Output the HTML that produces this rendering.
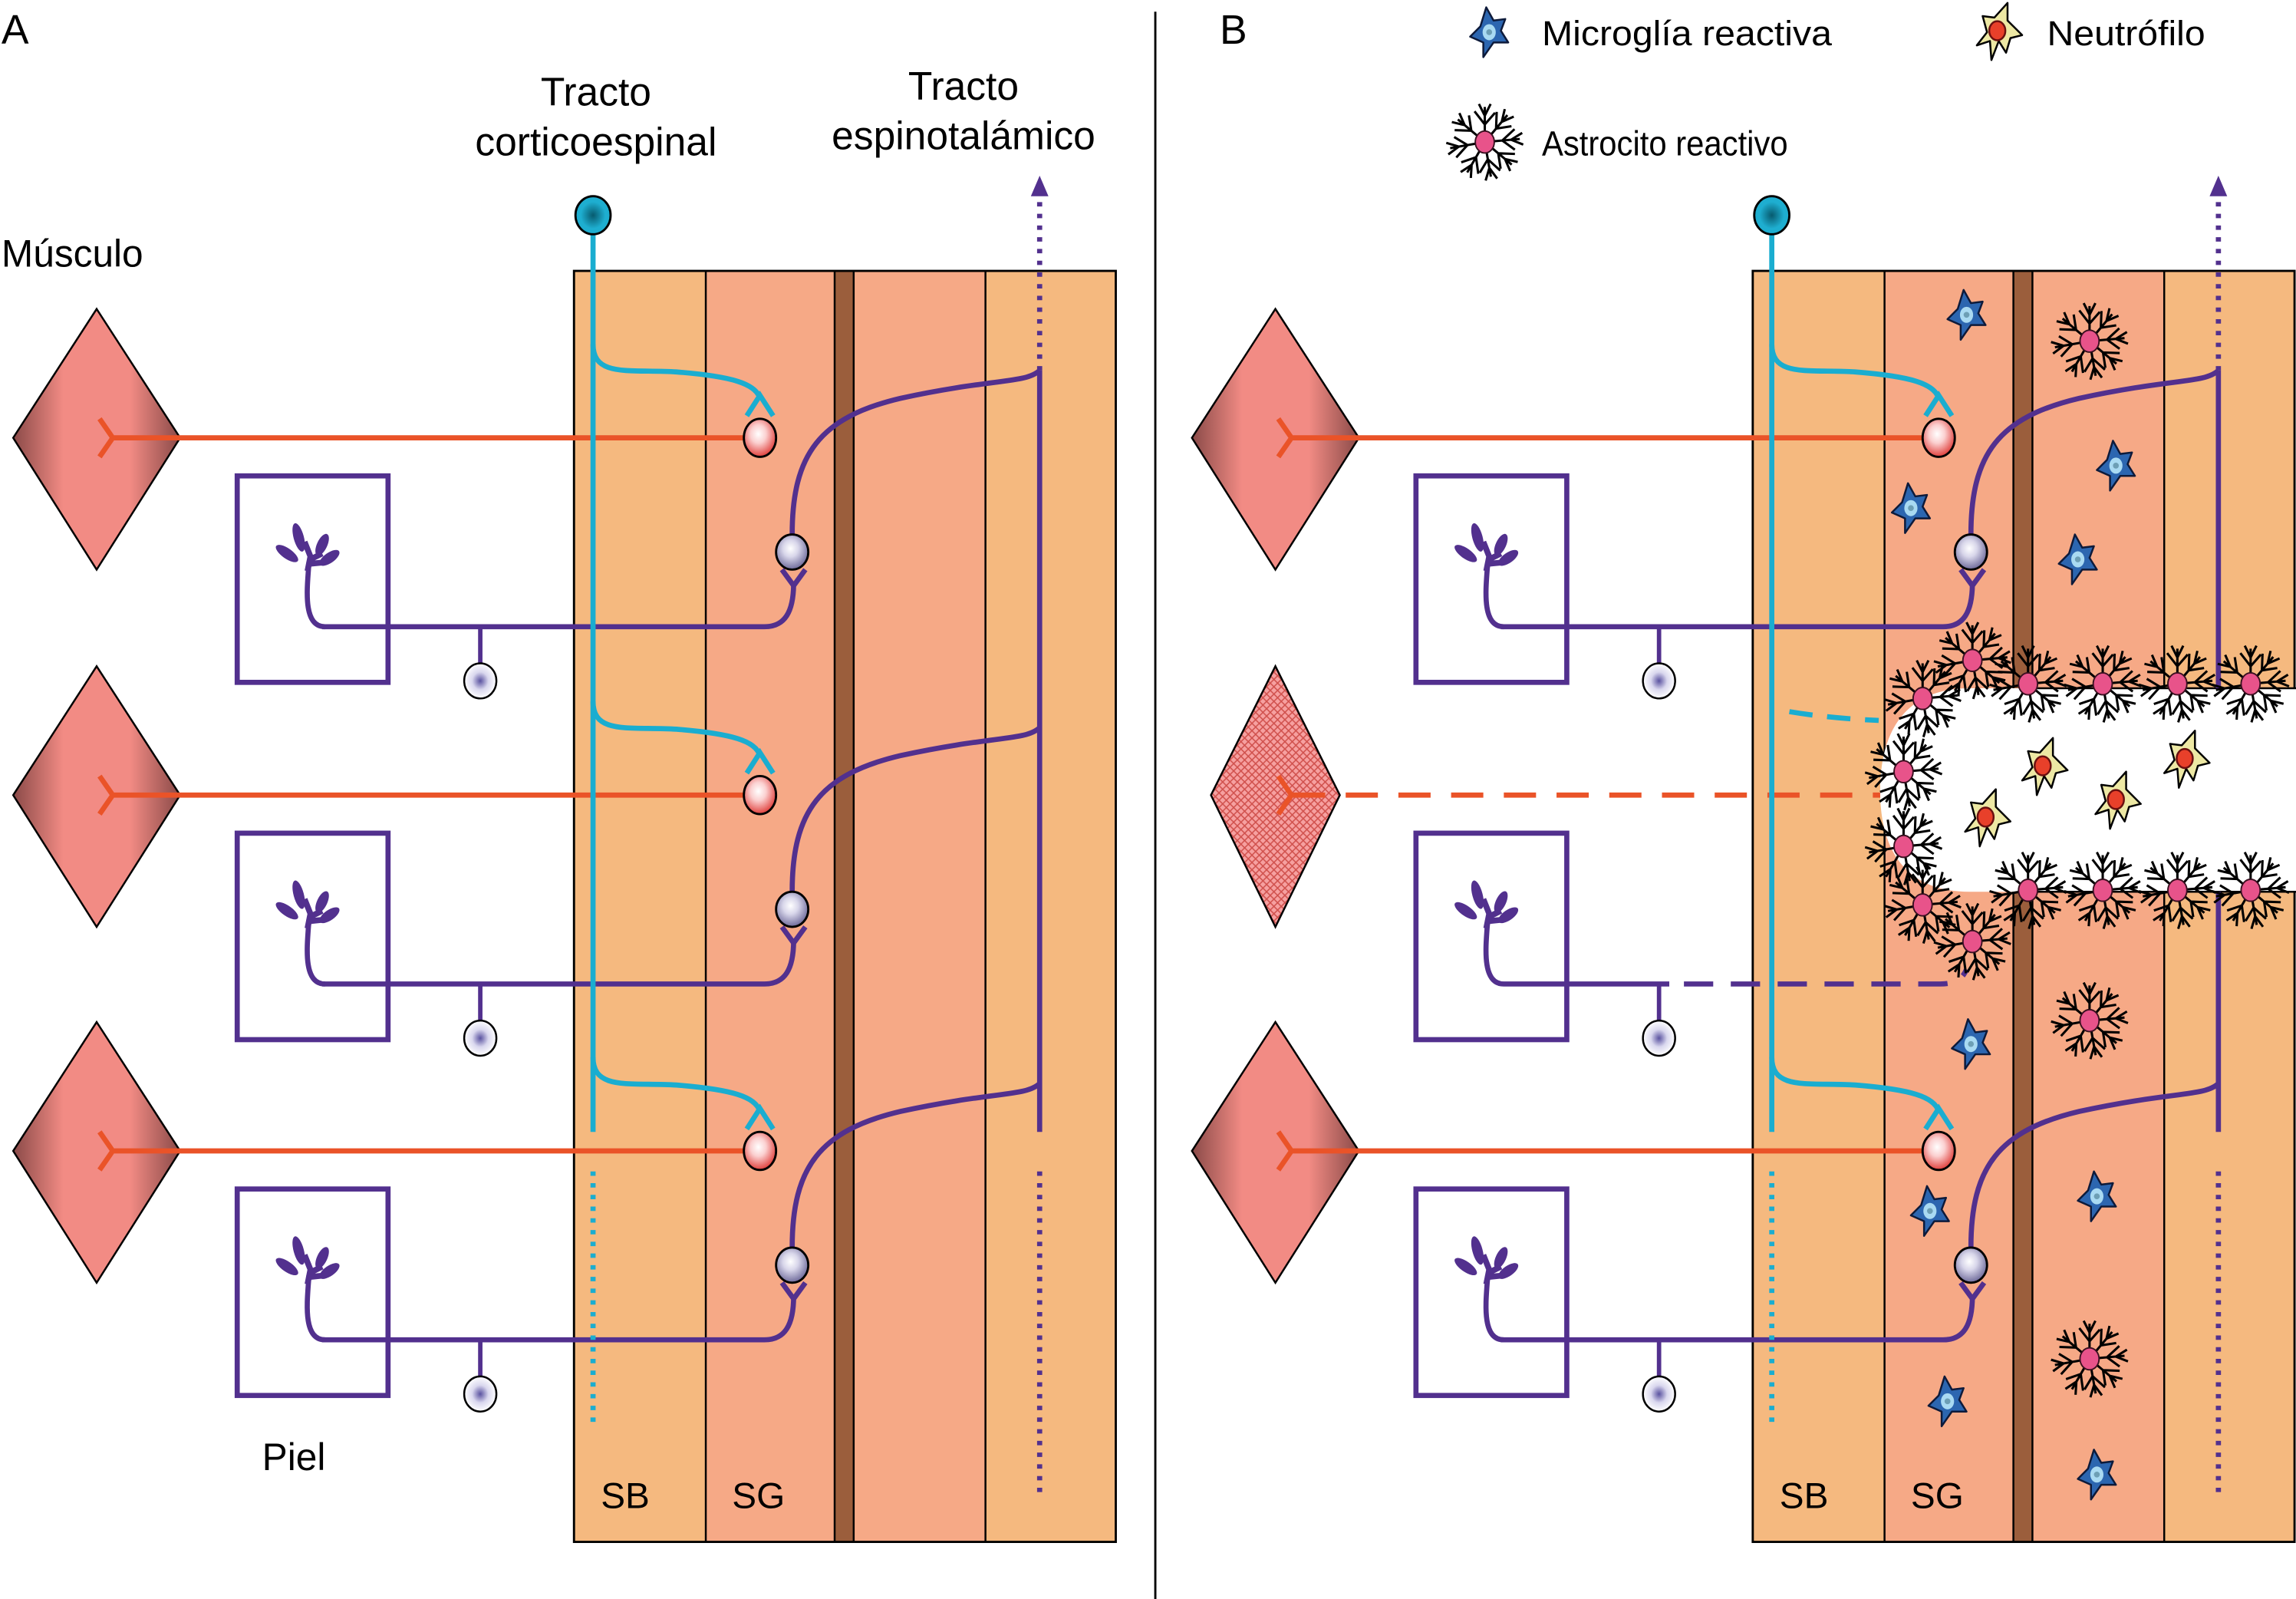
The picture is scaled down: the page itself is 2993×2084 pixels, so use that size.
<!DOCTYPE html>
<html><head><meta charset="utf-8"><style>html,body{margin:0;padding:0;background:#fff}svg{display:block}</style></head><body>
<svg xmlns="http://www.w3.org/2000/svg" xmlns:xlink="http://www.w3.org/1999/xlink" width="2993" height="2084" viewBox="0 0 1568 1092" preserveAspectRatio="none" font-family="'Liberation Sans Narrow','Liberation Sans',sans-serif">
<defs>
<linearGradient id="dg" x1="0" x2="1" y1="0" y2="0"><stop offset="0" stop-color="#8a4a48"/><stop offset="0.3" stop-color="#F28B84"/><stop offset="0.7" stop-color="#F28B84"/><stop offset="1" stop-color="#8a4a48"/></linearGradient>
<radialGradient id="rc" cx="0.45" cy="0.4" r="0.6"><stop offset="0" stop-color="#fff"/><stop offset="0.4" stop-color="#fbd0d0"/><stop offset="1" stop-color="#e0403c"/></radialGradient>
<radialGradient id="pc" cx="0.45" cy="0.4" r="0.6"><stop offset="0" stop-color="#fff"/><stop offset="0.4" stop-color="#d8d6ea"/><stop offset="1" stop-color="#6e6a9a"/></radialGradient>
<radialGradient id="wc" r="0.5"><stop offset="0" stop-color="#5a52a0"/><stop offset="0.5" stop-color="#d9d7ee"/><stop offset="1" stop-color="#fff"/></radialGradient>
<radialGradient id="cc" r="0.5"><stop offset="0" stop-color="#075a6e"/><stop offset="0.7" stop-color="#1eaed0"/><stop offset="1" stop-color="#1eaed0"/></radialGradient>
<pattern id="hatch" width="5" height="5" patternUnits="userSpaceOnUse"><rect width="5" height="5" fill="#F6A0A0"/><path d="M0 0L5 5M5 0L0 5" stroke="#d0504c" stroke-width="0.8"/></pattern>
<g id="ray"><path d="M0 -6V-24M0 -12L-7 -21M0 -12L7 -20M0 -18L-4 -26M0 -18L4 -26" stroke="#000" stroke-width="1.6" fill="none"/></g>
<g id="astro">
<use xlink:href="#ray"/><use xlink:href="#ray" transform="rotate(40)"/><use xlink:href="#ray" transform="rotate(85)"/><use xlink:href="#ray" transform="rotate(130)"/><use xlink:href="#ray" transform="rotate(170)"/><use xlink:href="#ray" transform="rotate(210)"/><use xlink:href="#ray" transform="rotate(260)"/><use xlink:href="#ray" transform="rotate(310)"/>
<ellipse rx="6.5" ry="7.5" fill="#E8538A" stroke="#3a1020" stroke-width="1"/></g>
<g id="micro"><path d="M-2 -17L3 -8L11 -9L8 -1L13 7L3 7L-4 17L-4 7L-13 3L-6 -4Z" fill="#2C66B0" stroke="#0d1a3a" stroke-width="1.3" stroke-linejoin="round"/><ellipse rx="4.5" ry="5.5" fill="#A9DAF2"/><circle r="2" fill="#6d9fb5"/></g>
<g id="neut"><path d="M-11 -11L-3 -10L6 -20L6 -8L16 2L8 4L5 14L0 6L-5 19L-6 6L-15 9L-8 0Z" fill="#EDE8A4" stroke="#000" stroke-width="1.3" stroke-linejoin="round"/><ellipse cx="-1" cy="-1" rx="5.5" ry="6.5" fill="#E8402A" stroke="#6a1010" stroke-width="1.3"/></g>
<g id="dend" fill="#52308E"><ellipse cx="204" cy="367" rx="3.5" ry="10" transform="rotate(-15 204 367)"/><ellipse cx="196" cy="378" rx="3.5" ry="9" transform="rotate(-55 196 378)"/><ellipse cx="220" cy="372" rx="3.5" ry="8" transform="rotate(25 220 372)"/><ellipse cx="225" cy="381" rx="3.5" ry="8" transform="rotate(55 225 381)"/>
<path d="M210 390L212 380L208 370M212 382L220 378M212 385L222 384" stroke="#52308E" stroke-width="4" fill="none"/></g>
<g id="rowTop">
<polygon points="9,299 66,211 123,299 66,389" fill="url(#dg)" stroke="#000" stroke-width="1.3"/>
<rect x="162" y="325" width="103" height="141" fill="none" stroke="#52308E" stroke-width="3.5"/>
<use xlink:href="#dend"/>
<path d="M211 384C210 400 206 428 222 428" stroke="#52308E" stroke-width="3.5" fill="none"/>
<path d="M328 428V455" stroke="#52308E" stroke-width="3"/>
<ellipse cx="328" cy="465" rx="11" ry="12" fill="url(#wc)" stroke="#000" stroke-width="1.3"/>
</g>
<g id="rowFull">
<use xlink:href="#rowTop"/>
<path d="M78 299H508" stroke="#EA5328" stroke-width="3.5"/>
<path d="M68 286L77 299L68 312" stroke="#EA5328" stroke-width="3.5" fill="none"/>
<path d="M405 235C405 258 430 252 462 254C500 257 516 262 519 272" stroke="#1AADD0" stroke-width="3.5" fill="none"/>
<path d="M510 284L519 270L528 284" stroke="#1AADD0" stroke-width="3.5" fill="none"/>
<ellipse cx="519" cy="299" rx="11" ry="13" fill="url(#rc)" stroke="#000" stroke-width="1.5"/>
<path d="M220 428H522C536 428 542 418 542 398" stroke="#52308E" stroke-width="3.5" fill="none"/>
<path d="M534 389L542 400L550 389" stroke="#52308E" stroke-width="3.5" fill="none"/>
<path d="M541 365C541 310 560 285 615 272C680 258 700 262 710 253" stroke="#52308E" stroke-width="3.5" fill="none"/>
<ellipse cx="541" cy="377" rx="11" ry="12" fill="url(#pc)" stroke="#000" stroke-width="1.5"/>
</g>
<g id="cord">
<rect x="392" y="185" width="90" height="868" fill="#F5B97F"/>
<rect x="482" y="185" width="88" height="868" fill="#F6A986"/>
<rect x="570" y="185" width="13" height="868" fill="#9B5E3C"/>
<rect x="583" y="185" width="90" height="868" fill="#F6A986"/>
<rect x="673" y="185" width="89" height="868" fill="#F5B97F"/>
<path d="M482 185V1053M570 185V1053M583 185V1053M673 185V1053" stroke="#000" stroke-width="1.3"/>
<rect x="392" y="185" width="370" height="868" fill="none" stroke="#000" stroke-width="1.5"/>
</g>
</defs>

<use xlink:href="#cord"/>
<use xlink:href="#rowFull"/>
<use xlink:href="#rowFull" transform="translate(0,244)"/>
<use xlink:href="#rowFull" transform="translate(0,487)"/>
<path d="M405 150V773" stroke="#1AADD0" stroke-width="3.5"/>
<path d="M405 800V975" stroke="#1AADD0" stroke-width="3.5" stroke-dasharray="3 5"/>
<ellipse cx="405" cy="147" rx="12" ry="13" fill="url(#cc)" stroke="#000" stroke-width="1.5"/>
<path d="M710 253V773" stroke="#52308E" stroke-width="3.5"/>
<path d="M710 800V1023M710 253V135" stroke="#52308E" stroke-width="3.5" stroke-dasharray="3 5"/>
<polygon points="710,120 704,134 716,134" fill="#52308E"/>
<text x="1" y="30" font-size="28" font-family="Liberation Sans,sans-serif">A</text>
<text x="407" y="72" font-size="27" text-anchor="middle">Tracto</text>
<text x="407" y="106" font-size="27" text-anchor="middle">corticoespinal</text>
<text x="658" y="68" font-size="27" text-anchor="middle">Tracto</text>
<text x="658" y="102" font-size="27" text-anchor="middle">espinotalámico</text>
<text x="1" y="182" font-size="26">Músculo</text>
<text x="179" y="1004" font-size="26">Piel</text>
<text x="427" y="1030" font-size="25" text-anchor="middle">SB</text>
<text x="518" y="1030" font-size="25" text-anchor="middle">SG</text>

<line x1="789" y1="8" x2="789" y2="1092" stroke="#000" stroke-width="1.5"/>

<g transform="translate(805,0)">
<use xlink:href="#cord"/>
<use xlink:href="#rowFull"/>
<use xlink:href="#rowFull" transform="translate(0,487)"/>
<g transform="translate(0,244)">
<rect x="157" y="325" width="113" height="145" fill="#fff"/>
<rect x="162" y="325" width="103" height="141" fill="none" stroke="#52308E" stroke-width="3.5"/>
<use xlink:href="#dend"/>
<path d="M211 384C210 400 206 428 222 428H335" stroke="#52308E" stroke-width="3.5" fill="none"/>
<path d="M345 428H520C530 428 535 425 538 418" stroke="#52308E" stroke-width="3.5" fill="none" stroke-dasharray="20 12"/>
<path d="M328 428V455" stroke="#52308E" stroke-width="3"/>
<ellipse cx="328" cy="465" rx="11" ry="12" fill="url(#wc)" stroke="#000" stroke-width="1.3"/>
<polygon points="22,299 66,211 110,299 66,389" fill="url(#hatch)" stroke="#000" stroke-width="1.3"/>
<path d="M68 286L77 299L68 312" stroke="#EA5328" stroke-width="3.5" fill="none"/>
<path d="M78 299H480" stroke="#EA5328" stroke-width="3.5" stroke-dasharray="22 14"/>
</g>
</g>
<path d="M1568 470H1345C1305 470 1284 495 1284 540C1284 585 1305 609 1345 609H1568Z" fill="#fff"/>
<path d="M1568 478H1340C1318 478 1300 500 1300 540C1300 580 1318 602 1340 602H1568Z" fill="#fff"/>
<path d="M1380 470H1568M1380 609H1568" stroke="#000" stroke-width="1.3"/>
<path d="M1222 486C1240 489 1260 491 1283 492" stroke="#1AADD0" stroke-width="3.5" fill="none" stroke-dasharray="16 10"/>
<path d="M1210 150V773" stroke="#1AADD0" stroke-width="3.5"/>
<path d="M1210 800V975" stroke="#1AADD0" stroke-width="3.5" stroke-dasharray="3 5"/>
<ellipse cx="1210" cy="147" rx="12" ry="13" fill="url(#cc)" stroke="#000" stroke-width="1.5"/>
<path d="M1515 253V470M1515 609V773" stroke="#52308E" stroke-width="3.5"/>
<path d="M1515 800V1023M1515 253V135" stroke="#52308E" stroke-width="3.5" stroke-dasharray="3 5"/>
<polygon points="1515,120 1509,134 1521,134" fill="#52308E"/>

<g>
<use xlink:href="#astro" x="1385" y="467"/><use xlink:href="#astro" x="1436" y="467"/><use xlink:href="#astro" x="1487" y="467"/><use xlink:href="#astro" x="1537" y="467"/>
<use xlink:href="#astro" x="1385" y="608"/><use xlink:href="#astro" x="1436" y="608"/><use xlink:href="#astro" x="1487" y="608"/><use xlink:href="#astro" x="1537" y="608"/>
<use xlink:href="#astro" x="1347" y="451"/><use xlink:href="#astro" x="1313" y="477"/><use xlink:href="#astro" x="1300" y="527"/><use xlink:href="#astro" x="1300" y="578"/><use xlink:href="#astro" x="1313" y="618"/><use xlink:href="#astro" x="1347" y="643"/>
<use xlink:href="#astro" x="1427" y="233"/><use xlink:href="#astro" x="1427" y="697"/><use xlink:href="#astro" x="1427" y="928"/><use xlink:href="#astro" x="1014" y="97"/>
</g>
<g>
<use xlink:href="#micro" x="1343" y="215"/><use xlink:href="#micro" x="1305" y="347"/><use xlink:href="#micro" x="1445" y="318"/><use xlink:href="#micro" x="1419" y="382"/><use xlink:href="#micro" x="1346" y="713"/><use xlink:href="#micro" x="1318" y="827"/><use xlink:href="#micro" x="1432" y="817"/><use xlink:href="#micro" x="1330" y="957"/><use xlink:href="#micro" x="1432" y="1007"/><use xlink:href="#micro" x="1017" y="22"/>
</g>
<g>
<use xlink:href="#neut" x="1357" y="559"/><use xlink:href="#neut" x="1396" y="524"/><use xlink:href="#neut" x="1446" y="547"/><use xlink:href="#neut" x="1493" y="519"/><use xlink:href="#neut" x="1365" y="22"/>
</g>
<text x="833" y="30" font-size="28" font-family="Liberation Sans,sans-serif">B</text>
<text x="1053" y="31" font-size="24" textLength="198" lengthAdjust="spacingAndGlyphs">Microglía reactiva</text>
<text x="1398" y="31" font-size="24" textLength="108" lengthAdjust="spacingAndGlyphs">Neutrófilo</text>
<text x="1053" y="106" font-size="24" textLength="168" lengthAdjust="spacingAndGlyphs">Astrocito reactivo</text>
<text x="1232" y="1030" font-size="25" text-anchor="middle">SB</text>
<text x="1323" y="1030" font-size="25" text-anchor="middle">SG</text>
</svg>
</body></html>
